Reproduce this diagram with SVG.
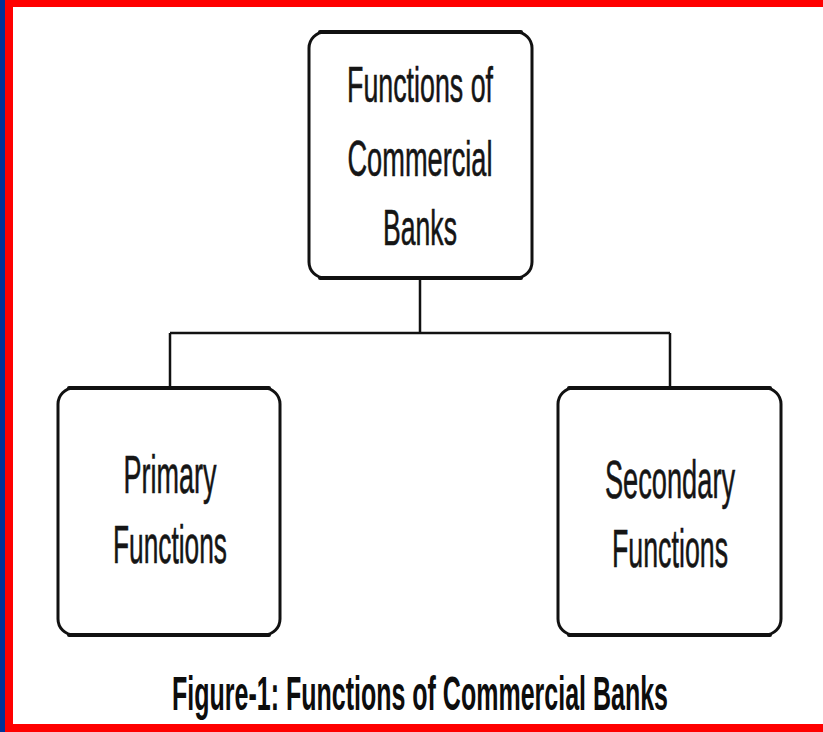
<svg xmlns="http://www.w3.org/2000/svg" width="823" height="732" viewBox="0 0 823 732">
<style>
.box{fill:#fff;stroke:#111;stroke-width:3}
.edge{stroke:#111;stroke-width:4;stroke-linecap:round}
.lbl{font-family:"Liberation Sans",Arial,sans-serif;fill:#151515;text-anchor:middle;stroke:#151515;stroke-width:0.6}
.conn{fill:none;stroke:#111;stroke-width:2.5}
.cap{font-family:"Liberation Sans",Arial,sans-serif;font-weight:bold;fill:#0d0d0d;text-anchor:middle}
</style>
<rect x="0" y="0" width="823" height="732" fill="#fff"/>
<g id="frame">
<rect x="0" y="0" width="823" height="7" fill="#ff0000"/>
<rect x="0" y="724" width="823" height="8" fill="#ff0000"/>
<rect x="5" y="0" width="8" height="732" fill="#ff0000"/>
<rect x="0" y="0" width="5" height="732" fill="#003399"/>
</g>
<g id="connectors">
<path class="conn" d="M420 278 V333 M170 333 H670 M170 333 V388 M670 333 V388"/>
</g>
<g id="node-root">
<rect class="box" x="309" y="32" width="223" height="246" rx="16"/>
<path class="edge" d="M320 32 H521 M320 278 H521"/>
<text class="lbl" font-size="50" transform="translate(420 102) scale(0.536 1)">Functions of</text>
<text class="lbl" font-size="50" transform="translate(420 176) scale(0.544 1)">Commercial</text>
<text class="lbl" font-size="50" transform="translate(420 245) scale(0.532 1)">Banks</text>
</g>
<g id="node-primary">
<rect class="box" x="58" y="388" width="222" height="247" rx="16"/>
<path class="edge" d="M69 388 H269 M69 635 H269"/>
<text class="lbl" font-size="54" transform="translate(170 493) scale(0.5 1)">Primary</text>
<text class="lbl" font-size="54" transform="translate(170 563) scale(0.487 1)">Functions</text>
</g>
<g id="node-secondary">
<rect class="box" x="558" y="388" width="223" height="247" rx="16"/>
<path class="edge" d="M569 388 H770 M569 635 H770"/>
<text class="lbl" font-size="54" transform="translate(670 498) scale(0.504 1)">Secondary</text>
<text class="lbl" font-size="54" transform="translate(670 567) scale(0.496 1)">Functions</text>
</g>
<g id="caption">
<text class="cap" font-size="48" transform="translate(420 710) scale(0.521 1)">Figure-1: Functions of Commercial Banks</text>
</g>
</svg>
